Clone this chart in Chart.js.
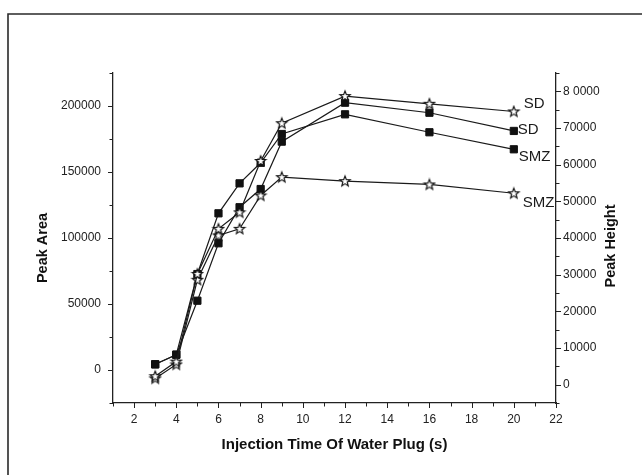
<!DOCTYPE html>
<html><head><meta charset="utf-8">
<script src="https://cdn.jsdelivr.net/npm/chart.js@4/dist/chart.umd.min.js"></script>
<style>html,body{margin:0;padding:0;background:#fff;overflow:hidden}#wrap{position:relative;width:642px;height:475px}</style>
</head><body><div id="wrap"><canvas id="c"></canvas></div>
<script>
// ---- data ----
const injectionTimes = [3, 4, 5, 6, 7, 8, 9, 12, 16, 20];
const sdPeakArea   = [4300, 11600, 52500, 96000, 123300, 137100, 173000, 202500, 194900, 181100];
const smzPeakArea  = [4300, 11600, 72700, 118700, 141400, 157000, 178800, 193700, 180100, 167200];
const sdPeakHeight  = [2300, 6300, 30200, 42500, 47000, 61000, 71300, 78700, 76600, 74500];
const smzPeakHeight = [1700, 5500, 28600, 40700, 42500, 51600, 56600, 55500, 54600, 52200];
const seriesNames = ['SD', 'SMZ', 'SD', 'SMZ'];
const xTickLabels = ['2', '4', '6', '8', '10', '12', '14', '16', '18', '20', '22'];
const leftTickLabels = ['0', '50000', '100000', '150000', '200000'];
const rightTickLabels = ['0', '10000', '20000', '30000', '40000', '50000', '60000', '70000', '8 0000'];
const xTitle = 'Injection Time Of Water Plug (s)';
const leftTitle = 'Peak Area';
const rightTitle = 'Peak Height';

// ---- marker: open five-pointed star ----
function makeStar() {
  const c = document.createElement('canvas');
  c.width = 14; c.height = 14;
  const g = c.getContext('2d');
  const cx = 7, cy = 7.3, R = 5.4, r = 2.3;
  g.beginPath();
  for (let i = 0; i < 10; i++) {
    const rad = i % 2 === 0 ? R : r;
    const a = -Math.PI / 2 + i * Math.PI / 5;
    const px = cx + rad * Math.cos(a), py = cy + rad * Math.sin(a);
    if (i === 0) g.moveTo(px, py); else g.lineTo(px, py);
  }
  g.closePath();
  g.fillStyle = '#fff'; g.fill();
  g.lineWidth = 1.2; g.strokeStyle = '#111'; g.lineJoin = 'miter'; g.stroke();
  return c;
}
const starImg = makeStar();

const pts = arr => arr.map((v, i) => ({x: injectionTimes[i], y: v}));
const lineCol = '#1a1a1a';

const datasets = [
  {label: seriesNames[0], data: pts(sdPeakHeight), yAxisID: 'y1', pointStyle: starImg, labelOffset: [10, -8]},
  {label: seriesNames[1], data: pts(smzPeakHeight), yAxisID: 'y1', pointStyle: starImg, labelOffset: [9, 10]},
  {label: seriesNames[2], data: pts(sdPeakArea), yAxisID: 'y', pointStyle: 'rect', pointRadius: 5.1, labelOffset: [4, -1]},
  {label: seriesNames[3], data: pts(smzPeakArea), yAxisID: 'y', pointStyle: 'rect', pointRadius: 5.1, labelOffset: [5, 8]}
].map(d => Object.assign({
  borderColor: lineCol, borderWidth: 1.2, backgroundColor: '#111',
  pointBackgroundColor: '#111', pointBorderColor: '#111', pointBorderWidth: 1,
  pointRadius: 5, tension: 0, fill: false
}, d));

const FONT = "'Liberation Sans', Arial, sans-serif";

const decoPlugin = {
  id: 'deco',
  beforeDraw(chart) {
    const ctx = chart.ctx;
    ctx.save();
    ctx.fillStyle = '#fff';
    ctx.fillRect(0, 0, chart.width, chart.height);
    ctx.strokeStyle = '#2a2a2a';
    ctx.lineWidth = 1.6;
    ctx.beginPath();
    ctx.moveTo(8, chart.height);
    ctx.lineTo(8, 14);
    ctx.lineTo(chart.width, 14);
    ctx.stroke();
    ctx.restore();
  },
  afterDraw(chart) {
    const ctx = chart.ctx;
    ctx.save();
    ctx.strokeStyle = '#222';
    ctx.lineWidth = 1;
    const sx = chart.scales.x, sy = chart.scales.y, sy1 = chart.scales.y1;
    sx.ticks.forEach(t => {
      const p = Math.round(sx.getPixelForValue(t.value)) + 0.5;
      const len = (t.label !== '') ? 5 : 3.5;
      ctx.beginPath(); ctx.moveTo(p, sx.top); ctx.lineTo(p, sx.top + len); ctx.stroke();
    });
    sy.ticks.forEach(t => {
      const p = Math.round(sy.getPixelForValue(t.value)) + 0.5;
      const len = (t.label !== '') ? 5 : 3.5;
      ctx.beginPath(); ctx.moveTo(sy.right, p); ctx.lineTo(sy.right - len, p); ctx.stroke();
    });
    sy1.ticks.forEach(t => {
      const p = Math.round(sy1.getPixelForValue(t.value)) + 0.5;
      const len = (t.label !== '') ? 5 : 3.5;
      ctx.beginPath(); ctx.moveTo(sy1.left, p); ctx.lineTo(sy1.left + len, p); ctx.stroke();
    });
    // axis titles (vertical)
    ctx.fillStyle = '#111';
    ctx.font = 'bold 14.5px ' + FONT;
    ctx.textAlign = 'center';
    ctx.textBaseline = 'middle';
    ctx.save(); ctx.translate(43, 248); ctx.rotate(-Math.PI / 2); ctx.fillText(leftTitle, 0, 0); ctx.restore();
    ctx.save(); ctx.translate(611, 246); ctx.rotate(-Math.PI / 2); ctx.fillText(rightTitle, 0, 0); ctx.restore();
    // series labels at line ends
    ctx.font = '15px ' + FONT;
    ctx.fillStyle = '#1a1a1a';
    ctx.textAlign = 'left';
    chart.data.datasets.forEach((ds, i) => {
      const meta = chart.getDatasetMeta(i);
      const last = meta.data[meta.data.length - 1];
      ctx.fillText(ds.label, last.x + ds.labelOffset[0], last.y + ds.labelOffset[1]);
    });
    ctx.restore();
  }
};

new Chart(document.getElementById('c'), {
  type: 'line',
  data: {datasets},
  options: {
    responsive: true, maintainAspectRatio: false, animation: false,
    devicePixelRatio: 1,
    layout: {padding: {top: 73, left: 0, right: 0, bottom: 0}},
    plugins: {legend: {display: false}, tooltip: {enabled: false}},
    scales: {
      x: {
        type: 'linear', min: 1, max: 22, offset: false,
        grid: {display: false, drawTicks: false},
        border: {display: true, color: '#222', width: 1.3},
        ticks: {
          stepSize: 1, autoSkip: false, maxRotation: 0, padding: 9.5,
          color: '#222', font: {family: FONT, size: 12},
          callback: v => (v % 2 === 0 ? xTickLabels[v / 2 - 1] : '')
        },
        title: {display: true, text: xTitle, color: '#111',
          font: {family: FONT, size: 15, weight: 'bold'}, padding: {top: 0, bottom: 21}},
        afterFit: s => { s.height = 72; }
      },
      y: {
        type: 'linear', position: 'left', min: -25000, max: 225000,
        grid: {display: false, drawTicks: false},
        border: {display: true, color: '#222', width: 1.3},
        ticks: {
          stepSize: 25000, autoSkip: false, padding: 12,
          color: '#222', font: {family: FONT, size: 12},
          callback: v => (v >= 0 && v % 50000 === 0 ? leftTickLabels[v / 50000] : '')
        },
        afterFit: s => { s.width = 113; }
      },
      y1: {
        type: 'linear', position: 'right', min: -5000, max: 85000,
        grid: {display: false, drawTicks: false},
        border: {display: true, color: '#222', width: 1.3},
        ticks: {
          stepSize: 5000, autoSkip: false, padding: 7,
          color: '#222', font: {family: FONT, size: 12},
          callback: v => (v >= 0 && v % 10000 === 0 ? rightTickLabels[v / 10000] : '')
        },
        afterFit: s => { s.width = 86; }
      }
    }
  },
  plugins: [decoPlugin]
});
</script>
</body></html>
